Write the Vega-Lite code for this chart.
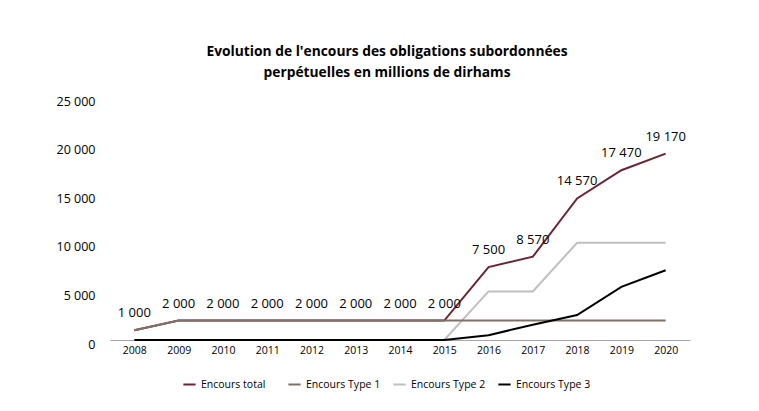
{
  "$schema": "https://vega.github.io/schema/vega-lite/v6.json",
  "autosize": {"type": "none"},
  "width": 580,
  "height": 243,
  "padding": {"left": 110, "top": 97, "right": 69, "bottom": 71},
  "background": "white",
  "config": {
    "locale": {"number": {"decimal": ",", "thousands": " ", "grouping": [3], "currency": ["", " DH"]}},
    "font": "Open Sans",
    "view": {"stroke": null}
  },
  "title": {
    "text": ["Evolution de l'encours des obligations subordonnées", "perpétuelles en millions de dirhams"],
    "font": "Open Sans",
    "fontSize": 13.8,
    "fontWeight": "bold",
    "color": "#000000",
    "anchor": "middle",
    "dx": -13,
    "offset": 15,
    "lineHeight": 21
  },
  "data": {
    "values": [
      {"year": "2008", "series": "Encours total", "value": 1000},
      {"year": "2009", "series": "Encours total", "value": 2000},
      {"year": "2010", "series": "Encours total", "value": 2000},
      {"year": "2011", "series": "Encours total", "value": 2000},
      {"year": "2012", "series": "Encours total", "value": 2000},
      {"year": "2013", "series": "Encours total", "value": 2000},
      {"year": "2014", "series": "Encours total", "value": 2000},
      {"year": "2015", "series": "Encours total", "value": 2000},
      {"year": "2016", "series": "Encours total", "value": 7500},
      {"year": "2017", "series": "Encours total", "value": 8570},
      {"year": "2018", "series": "Encours total", "value": 14570},
      {"year": "2019", "series": "Encours total", "value": 17470},
      {"year": "2020", "series": "Encours total", "value": 19170},
      {"year": "2008", "series": "Encours Type 1", "value": 1000},
      {"year": "2009", "series": "Encours Type 1", "value": 2000},
      {"year": "2010", "series": "Encours Type 1", "value": 2000},
      {"year": "2011", "series": "Encours Type 1", "value": 2000},
      {"year": "2012", "series": "Encours Type 1", "value": 2000},
      {"year": "2013", "series": "Encours Type 1", "value": 2000},
      {"year": "2014", "series": "Encours Type 1", "value": 2000},
      {"year": "2015", "series": "Encours Type 1", "value": 2000},
      {"year": "2016", "series": "Encours Type 1", "value": 2000},
      {"year": "2017", "series": "Encours Type 1", "value": 2000},
      {"year": "2018", "series": "Encours Type 1", "value": 2000},
      {"year": "2019", "series": "Encours Type 1", "value": 2000},
      {"year": "2020", "series": "Encours Type 1", "value": 2000},
      {"year": "2008", "series": "Encours Type 2", "value": 0},
      {"year": "2009", "series": "Encours Type 2", "value": 0},
      {"year": "2010", "series": "Encours Type 2", "value": 0},
      {"year": "2011", "series": "Encours Type 2", "value": 0},
      {"year": "2012", "series": "Encours Type 2", "value": 0},
      {"year": "2013", "series": "Encours Type 2", "value": 0},
      {"year": "2014", "series": "Encours Type 2", "value": 0},
      {"year": "2015", "series": "Encours Type 2", "value": 0},
      {"year": "2016", "series": "Encours Type 2", "value": 5000},
      {"year": "2017", "series": "Encours Type 2", "value": 5000},
      {"year": "2018", "series": "Encours Type 2", "value": 10000},
      {"year": "2019", "series": "Encours Type 2", "value": 10000},
      {"year": "2020", "series": "Encours Type 2", "value": 10000},
      {"year": "2008", "series": "Encours Type 3", "value": 0},
      {"year": "2009", "series": "Encours Type 3", "value": 0},
      {"year": "2010", "series": "Encours Type 3", "value": 0},
      {"year": "2011", "series": "Encours Type 3", "value": 0},
      {"year": "2012", "series": "Encours Type 3", "value": 0},
      {"year": "2013", "series": "Encours Type 3", "value": 0},
      {"year": "2014", "series": "Encours Type 3", "value": 0},
      {"year": "2015", "series": "Encours Type 3", "value": 0},
      {"year": "2016", "series": "Encours Type 3", "value": 500},
      {"year": "2017", "series": "Encours Type 3", "value": 1570},
      {"year": "2018", "series": "Encours Type 3", "value": 2570},
      {"year": "2019", "series": "Encours Type 3", "value": 5470},
      {"year": "2020", "series": "Encours Type 3", "value": 7170}
    ]
  },
  "encoding": {
    "x": {
      "field": "year", "type": "ordinal",
      "scale": {"type": "point", "padding": 0.55},
      "axis": {
        "title": null, "labelAngle": 0, "ticks": false, "domain": true,
        "domainColor": "#a6a6a6", "domainWidth": 1, "labelFontSize": 10.5,
        "labelColor": "#000000", "labelPadding": 5, "grid": false
      }
    },
    "y": {
      "field": "value", "type": "quantitative",
      "scale": {"domain": [0, 25000], "nice": false},
      "axis": {
        "title": null, "values": [0, 5000, 10000, 15000, 20000, 25000],
        "labelExpr": "format(datum.value, ',d')",
        "ticks": false, "domain": false, "grid": false, "labelFontSize": 12.5,
        "labelColor": "#000000", "labelPadding": 15, "labelOffset": 4
      }
    },
    "color": {
      "field": "series", "type": "nominal",
      "scale": {
        "domain": ["Encours total", "Encours Type 1", "Encours Type 2", "Encours Type 3"],
        "range": ["#6b2433", "#7f7068", "#bfbfbf", "#000000"]
      },
      "legend": {
        "title": null, "orient": "none", "direction": "horizontal", "columns": 4,
        "legendX": 72, "legendY": 280, "symbolType": "stroke", "symbolStrokeWidth": 2,
        "symbolSize": 150, "labelFontSize": 10.5, "labelColor": "#000000",
        "gridAlign": "all", "columnPadding": 8, "labelOffset": 4
      }
    }
  },
  "layer": [
    {"transform": [{"filter": "datum.series == 'Encours total'"}], "mark": {"type": "line", "strokeWidth": 2}},
    {"transform": [{"filter": "datum.series == 'Encours Type 2'"}], "mark": {"type": "line", "strokeWidth": 2}},
    {"transform": [{"filter": "datum.series == 'Encours Type 1'"}], "mark": {"type": "line", "strokeWidth": 2}},
    {"transform": [{"filter": "datum.series == 'Encours Type 3'"}], "mark": {"type": "line", "strokeWidth": 2}},
    {
      "transform": [{"filter": "datum.series == 'Encours total'"}],
      "mark": {"type": "text", "dy": -17, "fontSize": 13, "color": "#000000"},
      "encoding": {
        "text": {"field": "value", "type": "quantitative", "format": ",d"},
        "color": {"value": "#000000"}
      }
    }
  ]
}
